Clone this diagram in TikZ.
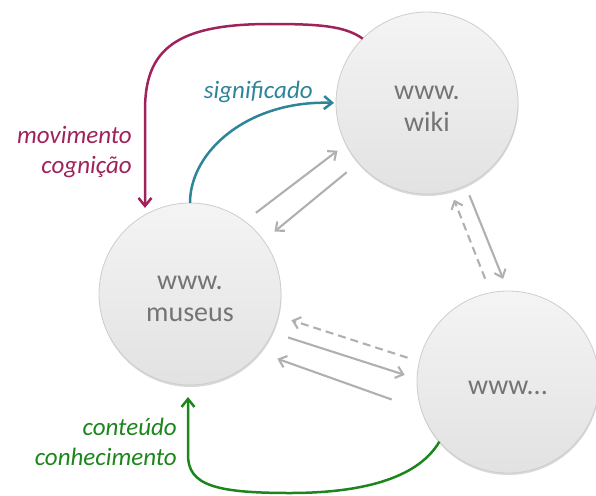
\documentclass[tikz,border=0pt]{standalone}
\usepackage{fontspec}
\setmainfont{Carlito}
\usetikzlibrary{arrows.meta,shadows,calc}
\definecolor{cpink}{HTML}{A0225A}
\definecolor{cteal}{HTML}{2E8499}
\definecolor{cgreen}{HTML}{1C861C}
\definecolor{cgray}{HTML}{B0B0B0}
\definecolor{ctext}{HTML}{747474}
\definecolor{cfilltop}{HTML}{F4F4F4}
\definecolor{cfillbot}{HTML}{E2E2E2}
\definecolor{crim}{HTML}{CDCDCD}
\begin{document}
\begin{tikzpicture}[x=1pt,y=-1pt,
  site/.style={circle, minimum size=182pt, inner sep=0pt, outer sep=0pt,
    top color=cfilltop, bottom color=cfillbot, draw=crim, line width=0.8pt,
    drop shadow={opacity=0.3, shadow xshift=0.5pt, shadow yshift=-2pt},
    text=ctext, font=\fontsize{28}{32}\selectfont, align=center},
  flow/.style={line width=2.5pt, -{Straight Barb[length=8pt,width=13pt]}},
  garrow/.style={draw=cgray, line width=2.1pt, -{Straight Barb[length=7pt,width=12pt]}},
  gdash/.style={garrow, dash pattern=on 8pt off 5pt},
  lbl/.style={font=\itshape\fontsize{25}{30}\selectfont, inner sep=0pt}]
\useasboundingbox (0,0) rectangle (596,495);

\node[site] (wiki) at (427,103) {\rule{0pt}{24pt}www.\\wiki};
\node[site] (museus) at (190,294) {\rule{0pt}{24pt}www.\\museus};
\node[site] (outro) at (508,382) {\rule{0pt}{25pt}www...};

\node[lbl, text=cteal, anchor=east] (sig) at (313,92) {significado};
\node[lbl, text=cpink, align=right, anchor=east] (mov) at (132,152) {movimento\\cognição};
\node[lbl, text=cgreen, align=right, anchor=east] (con) at (177,442) {conteúdo\\conhecimento};

\coordinate (pk) at (145,110);
\coordinate (gk) at (188,455);

\draw[flow, draw=cpink, shorten >=5pt] (wiki.135) .. controls (345,26) and (320,24) .. (270,24)
  .. controls (175,24) and (145,50) .. (pk) -- (pk |- museus.117);
\draw[flow, draw=cteal, shorten >=2pt] (museus.north) .. controls (190,150) and (250,100) .. (wiki.west);
\draw[flow, draw=cgreen, shorten >=12pt] (outro.221) .. controls (420,475) and (370,493) .. (290,493)
  .. controls (215,493) and (188,485) .. (gk) -- (gk |- museus.south);

\draw[garrow, shorten <=14pt, shorten >=10.5pt] (museus.53.1) -- (wiki.207.6);
\draw[garrow, shorten <=15pt, shorten >=14pt] (wiki.221.2) -- (museus.36.1);
\draw[gdash, shorten <=15pt, shorten >=9.4pt] (outro.101.9) -- (wiki.285);
\draw[garrow, shorten <=10.6pt, shorten >=13pt] (wiki.295.1) -- (outro.90.6);
\draw[gdash, shorten <=12.4pt, shorten >=13.8pt] (outro.167.7) -- (museus.346.8);
\draw[garrow, shorten <=16.4pt, shorten >=13pt] (museus.335.8) -- (outro.178.9);
\draw[garrow, shorten <=31.6pt, shorten >=18.7pt] (outro.198.5) -- (museus.320.7);
\end{tikzpicture}
\end{document}
